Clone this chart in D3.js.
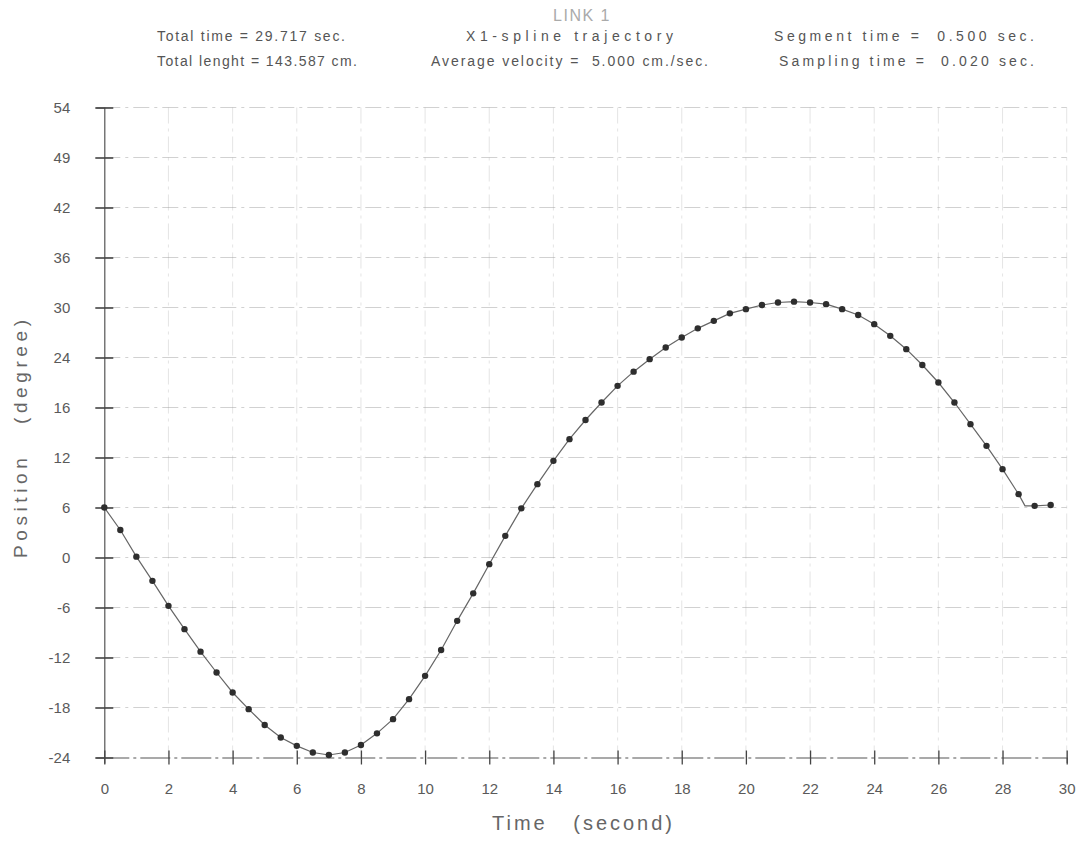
<!DOCTYPE html>
<html>
<head>
<meta charset="utf-8">
<script src="https://cdn.jsdelivr.net/npm/d3@7"></script>
<style>
  html, body { margin: 0; padding: 0; background: #fff; }
  svg { display: block; }
  text { font-family: "Liberation Sans", "DejaVu Sans", sans-serif; }
</style>
</head>
<body>
<svg id="chart" width="1079" height="844"></svg>
<script>
// ---- data ----
const times = [0, 0.5, 1, 1.5, 2, 2.5, 3, 3.5, 4, 4.5, 5, 5.5, 6, 6.5, 7, 7.5, 8, 8.5, 9, 9.5,
  10, 10.5, 11, 11.5, 12, 12.5, 13, 13.5, 14, 14.5, 15, 15.5, 16, 16.5, 17, 17.5, 18, 18.5, 19, 19.5,
  20, 20.5, 21, 21.5, 22, 22.5, 23, 23.5, 24, 24.5, 25, 25.5, 26, 26.5, 27, 27.5, 28, 28.5, 29, 29.5];
const positions = [6.0, 3.3, 0.1, -2.8, -5.8, -8.6, -11.3, -13.8, -16.2, -18.2, -20.1, -21.6, -22.6, -23.4, -23.7, -23.4, -22.5, -21.1, -19.4, -17.0,
  -14.2, -11.1, -7.6, -4.3, -0.8, 2.6, 5.9, 8.8, 11.6, 14.2, 16.5, 18.6, 20.6, 22.3, 23.8, 25.2, 26.4, 27.5, 28.4, 29.3,
  29.8, 30.3, 30.6, 30.7, 30.6, 30.4, 29.8, 29.1, 28.0, 26.6, 25.0, 23.1, 21.0, 18.6, 16.0, 13.4, 10.6, 7.6, 6.2, 6.3];
const lineBreak = { t: 28.7, v: 6.2 };   // where the drawn line levels off

const yTickValues = [54, 48, 42, 36, 30, 24, 18, 12, 6, 0, -6, -12, -18, -24];
const yTickLabels = ["54", "49", "42", "36", "30", "24", "16", "12", "6", "0", "-6", "-12", "-18", "-24"];
const xTickValues = [0, 2, 4, 6, 8, 10, 12, 14, 16, 18, 20, 22, 24, 26, 28, 30];
const xTickLabels = ["0", "2", "4", "6", "8", "10", "12", "14", "16", "18", "20", "22", "24", "26", "28", "30"];

const titleText = "LINK 1";
const headerLeft = ["Total time = 29.717 sec.", "Total lenght = 143.587 cm."];
const headerMid = ["X1-spline trajectory", "Average velocity =  5.000 cm./sec."];
const headerRight = ["Segment time =  0.500 sec.", "Sampling time =  0.020 sec."];
const xTitle = "Time   (second)";
const yTitle = "Position   (degree)";

// ---- scales ----
const svg = d3.select("#chart");
svg.append("rect").attr("width", 1079).attr("height", 844).attr("fill", "#fff");

const x = d3.scaleLinear().domain([0, 30]).range([104.3, 1066.7]);
const y = d3.scaleLinear().domain([-24, 54]).range([757.5, 107.5]);

// ---- grid ----
const grid = svg.append("g");
grid.selectAll("line.h").data(yTickValues.filter(d => d !== -24)).join("line")
  .attr("class", "h")
  .attr("x1", x(0)).attr("x2", x(30))
  .attr("y1", d => y(d)).attr("y2", d => y(d))
  .attr("stroke", "#9a9a9a").attr("stroke-width", 1)
  .attr("stroke-dasharray", "16,5,3,5").attr("opacity", 0.45);
grid.selectAll("line.v").data(xTickValues.filter(d => d !== 0)).join("line")
  .attr("class", "v")
  .attr("x1", d => x(d)).attr("x2", d => x(d))
  .attr("y1", y(54)).attr("y2", y(-24))
  .attr("stroke", "#9a9a9a").attr("stroke-width", 1)
  .attr("stroke-dasharray", "16,5,3,5").attr("opacity", 0.25);

// ---- axes ----
const yAxis = d3.axisLeft(y)
  .tickValues(yTickValues)
  .tickFormat(d => yTickLabels[yTickValues.indexOf(d)])
  .tickSize(8).tickPadding(26);
const gy = svg.append("g").attr("transform", `translate(${x(0)},0)`).call(yAxis);
gy.select(".domain").attr("stroke", "#555").attr("stroke-width", 1.2);
gy.selectAll(".tick line").attr("x1", -9).attr("x2", 9).attr("stroke", "#444").attr("stroke-width", 1.6);
gy.selectAll(".tick text").attr("fill", "#5a5a5a").attr("font-size", 15)
  .attr("font-family", "'Liberation Sans', sans-serif");

const xAxis = d3.axisBottom(x)
  .tickValues(xTickValues)
  .tickFormat(d => xTickLabels[xTickValues.indexOf(d)])
  .tickSize(6).tickPadding(20);
const gx = svg.append("g").attr("transform", `translate(0,${y(-24)})`).call(xAxis);
gx.select(".domain").attr("stroke", "#555").attr("stroke-width", 1.1).attr("stroke-dasharray", "30,4,3,4");
gx.selectAll(".tick line").attr("y1", -7).attr("y2", 7).attr("stroke", "#444").attr("stroke-width", 1.3);
gx.selectAll(".tick text").attr("fill", "#5a5a5a").attr("font-size", 15)
  .attr("font-family", "'Liberation Sans', sans-serif");

// ---- line & points ----
const pts = times.map((t, i) => ({ t, v: positions[i] }));
const lineData = pts.filter(p => p.t <= 28.5).concat([lineBreak], pts.filter(p => p.t > 28.5));
svg.append("path")
  .datum(lineData)
  .attr("fill", "none").attr("stroke", "#666").attr("stroke-width", 1.2)
  .attr("d", d3.line().x(d => x(d.t)).y(d => y(d.v)));

svg.append("g").selectAll("circle").data(pts).join("circle")
  .attr("cx", d => x(d.t)).attr("cy", d => y(d.v)).attr("r", 3.2)
  .attr("fill", "#2e2e2e");

// ---- texts ----
svg.append("text").attr("x", 582).attr("y", 21).attr("text-anchor", "middle")
  .attr("font-size", 16).attr("fill", "#aaa").attr("letter-spacing", 1.5)
  .text(titleText);

const rowsY = [41, 66];
function header(s, x0, w, yy) {
  svg.append("text").attr("x", x0).attr("y", yy)
    .attr("font-size", 14).attr("fill", "#555")
    .attr("textLength", w).attr("lengthAdjust", "spacing")
    .style("white-space", "pre").text(s);
}
header(headerLeft[0], 157, 188, rowsY[0]);
header(headerLeft[1], 157, 200, rowsY[1]);
header(headerMid[0], 466, 207, rowsY[0]);
header(headerMid[1], 431, 277, rowsY[1]);
header(headerRight[0], 774, 260, rowsY[0]);
header(headerRight[1], 779, 255, rowsY[1]);

svg.append("text").attr("x", 492).attr("y", 830)
  .attr("font-size", 20).attr("fill", "#666")
  .attr("textLength", 180).attr("lengthAdjust", "spacing")
  .style("white-space", "pre").text(xTitle);

svg.append("text").attr("transform", "translate(27,558) rotate(-90)")
  .attr("font-size", 19).attr("fill", "#666")
  .attr("textLength", 238).attr("lengthAdjust", "spacing")
  .style("white-space", "pre").text(yTitle);
</script>
</body>
</html>
